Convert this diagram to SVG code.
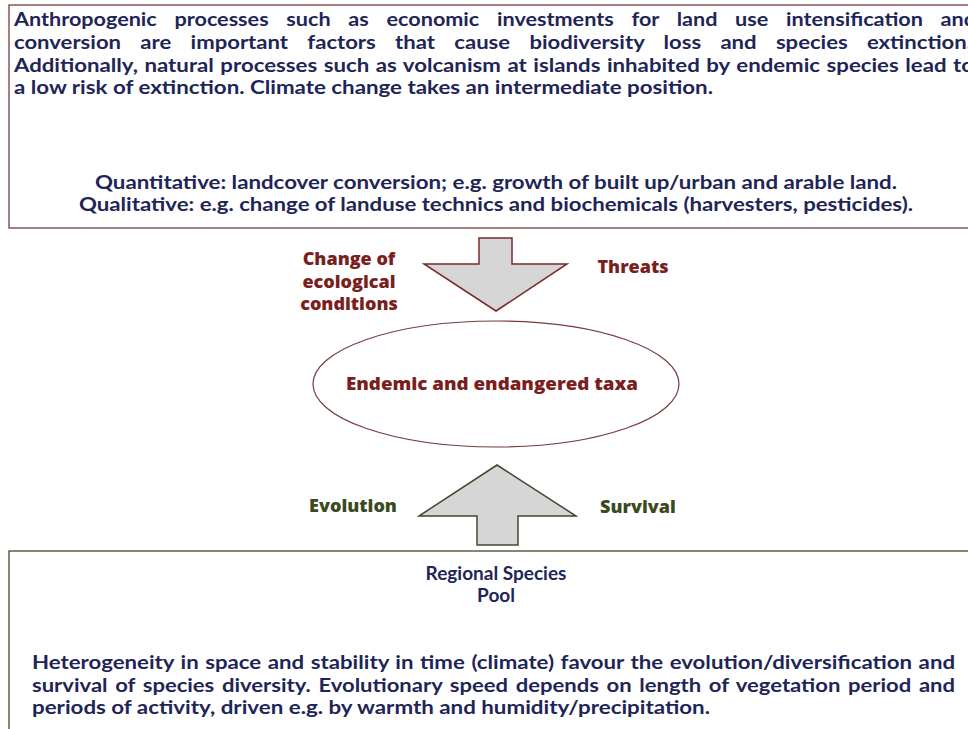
<svg xmlns="http://www.w3.org/2000/svg" width="968" height="729" viewBox="0 0 968 729">
<style>
text{font-family:Lato,"Open Sans","Liberation Sans",sans-serif;font-weight:bold;}
.navy{fill:#1e2557;font-size:19px;}
.lbl{font-family:"Open Sans","Liberation Sans",sans-serif;font-weight:800;font-size:18px;}
.red{fill:#7a1e1e;}
.green{fill:#3b4a1e;}
</style>
<rect width="968" height="729" fill="#ffffff"/>
<g id="top-box">
<rect x="9" y="5" width="980" height="223" fill="#ffffff" stroke="#7a3a3a" stroke-width="1.3"/>
<text class="navy" x="14" y="26" word-spacing="11" textLength="962" lengthAdjust="spacingAndGlyphs">Anthropogenic processes such as economic investments for land use intensification and</text>
<text class="navy" x="14" y="49" word-spacing="12" textLength="958" lengthAdjust="spacingAndGlyphs">conversion are important factors that cause biodiversity loss and species extinction.</text>
<text class="navy" x="14" y="72" word-spacing="1" textLength="960" lengthAdjust="spacingAndGlyphs">Additionally, natural processes such as volcanism at islands inhabited by endemic species lead to</text>
<text class="navy" x="14" y="94" textLength="699" lengthAdjust="spacingAndGlyphs">a low risk of extinction. Climate change takes an intermediate position.</text>
<text class="navy" x="95" y="189" textLength="802" lengthAdjust="spacingAndGlyphs">Quantitative: landcover conversion; e.g. growth of built up/urban and arable land.</text>
<text class="navy" x="79" y="211" textLength="834" lengthAdjust="spacingAndGlyphs">Qualitative: e.g. change of landuse technics and biochemicals (harvesters, pesticides).</text>
</g>
<g id="connectors">
<polygon points="479,238 512,238 512,264 567,264 496,311 424,264 479,264" fill="#d6d6d6" stroke="#7a2a2a" stroke-width="1.5"/>
<polygon points="497,465 576,516 518,516 518,545 477,545 477,516 419,516" fill="#d6d6d6" stroke="#3e4a2c" stroke-width="1.5"/>
</g>
<g id="label-change">
<text class="lbl red" x="349" y="265" text-anchor="middle">Change of</text>
<text class="lbl red" x="349" y="288" text-anchor="middle">ecological</text>
<text class="lbl red" x="349" y="310" text-anchor="middle">conditions</text>
</g>
<g id="label-threats">
<text class="lbl red" x="633" y="273" text-anchor="middle">Threats</text>
</g>
<g id="taxa">
<ellipse cx="496" cy="384" rx="183" ry="63" fill="#ffffff" stroke="#7a3a3a" stroke-width="1.2"/>
<text class="lbl red" x="492" y="390" text-anchor="middle" textLength="292" lengthAdjust="spacingAndGlyphs">Endemic and endangered taxa</text>
</g>
<g id="label-evolution">
<text class="lbl green" x="353" y="512" text-anchor="middle">Evolution</text>
</g>
<g id="label-survival">
<text class="lbl green" x="638" y="513" text-anchor="middle">Survival</text>
</g>
<g id="pool-box">
<rect x="9" y="551" width="980" height="200" fill="#ffffff" stroke="#3e4a2c" stroke-width="1.3"/>
<text class="navy" x="496" y="580" text-anchor="middle">Regional Species</text>
<text class="navy" x="496" y="602" text-anchor="middle">Pool</text>
<text class="navy" x="32" y="669" word-spacing="1" textLength="923" lengthAdjust="spacingAndGlyphs">Heterogeneity in space and stability in time (climate) favour the evolution/diversification and</text>
<text class="navy" x="32" y="692" word-spacing="2" textLength="923" lengthAdjust="spacingAndGlyphs">survival of species diversity. Evolutionary speed depends on length of vegetation period and</text>
<text class="navy" x="32" y="714" textLength="678" lengthAdjust="spacingAndGlyphs">periods of activity, driven e.g. by warmth and humidity/precipitation.</text>
</g>
</svg>
